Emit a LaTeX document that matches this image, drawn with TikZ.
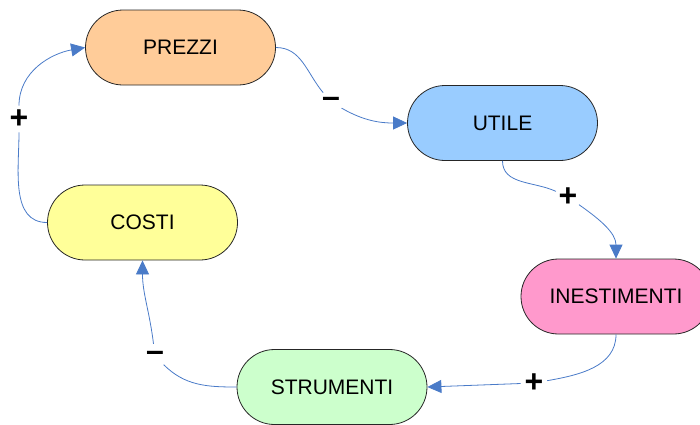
\documentclass[tikz,border=0pt]{standalone}
\usepackage{fontspec}
\setmainfont{Liberation Sans}
\usetikzlibrary{arrows.meta}
\definecolor{linkblue}{HTML}{4A7BC8}
\definecolor{peach}{HTML}{FFCC99}
\definecolor{skyblue}{HTML}{99CCFF}
\definecolor{pinkish}{HTML}{FF99CC}
\definecolor{paleyellow}{HTML}{FFFF99}
\definecolor{palegreen}{HTML}{CCFFCC}
\tikzset{
  pill/.style={draw=black!85, line width=0.8pt, rectangle, rounded corners=37.5pt,
    minimum width=190pt, minimum height=75pt, inner sep=0pt,
    font=\fontsize{21}{24}\selectfont},
  sign/.style={circle, inner sep=0pt, minimum size=24pt,
    font=\fontsize{32}{34}\selectfont\bfseries},
  link/.style={draw=linkblue, line width=0.8pt},
  linkarrow/.style={link, -{Triangle[length=14pt,width=13pt,fill=linkblue]}}
}
\begin{document}
\begin{tikzpicture}[x=1pt,y=-1pt]
  \useasboundingbox (0,0) rectangle (700,424);
  \clip (0,0) rectangle (700,424);

  % boxes of the loop
  \node[pill, fill=peach]      (prezzi) at (180.5,47.5) {PREZZI};
  \node[pill, fill=skyblue]    (utile)  at (502.5,123)  {UTILE};
  \node[pill, fill=pinkish]    (inest)  at (616,296.5)  {INESTIMENTI};
  \node[pill, fill=paleyellow] (costi)  at (142.5,222.5){COSTI};
  \node[pill, fill=palegreen]  (strum)  at (332,387)    {STRUMENTI};

  % signs of the links
  \node[sign] (s1) at (331,102) {–};
  \node[sign] (s2) at (568,197) {+};
  \node[sign] (s3) at (534,383) {+};
  \node[sign] (s4) at (155,356) {–};
  \node[sign] (s5) at (19,119)  {+};

  % links, each broken by its sign
  \draw[link] (prezzi.east) to[out=0,in=130] (s1);
  \draw[linkarrow] (s1) to[out=-30,in=180] (utile.west);

  \draw[link] (utile.south) to[out=-90,in=155] (s2);
  \draw[linkarrow] (s2) to[out=-35,in=90] (inest.north);

  \draw[link] (inest.south) to[out=-90,in=10] (s3);
  \draw[linkarrow] (s3) -- (strum.east);

  \draw[link] (strum.west) to[out=180,in=-45] (s4);
  \draw[linkarrow] (s4) to[out=97,in=-90] (costi.south);

  \draw[link] (costi.west) to[out=180,in=-90] (s5);
  \draw[linkarrow] (s5) to[out=90,in=190] (prezzi.west);
\end{tikzpicture}
\end{document}
